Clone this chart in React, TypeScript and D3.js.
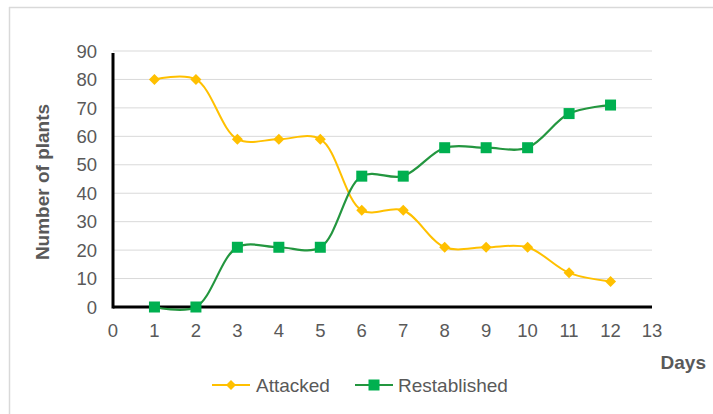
import * as d3 from 'd3'

const days = [1, 2, 3, 4, 5, 6, 7, 8, 9, 10, 11, 12]
const attacked = [80, 80, 59, 59, 59, 34, 34, 21, 21, 21, 12, 9]
const restablished = [0, 0, 21, 21, 21, 46, 46, 56, 56, 56, 68, 71]
const xTicks = d3.range(0, 14)
const yTicks = [0, 10, 20, 30, 40, 50, 60, 70, 80, 90]

const W = 713
const H = 414
const font = '"Liberation Sans", Arial, sans-serif'
const gray = '#595959'
const yellow = '#FFC000'
const greenMark = '#00B050'
const greenLine = '#23963F'

export default function App() {
  const x = d3.scaleLinear().domain([0, 13]).range([113, 652])
  const y = d3.scaleLinear().domain([0, 90]).range([307, 51])

  const line = d3
    .line<number>()
    .x((_, i) => x(days[i]))
    .y((d) => y(d))
    .curve(d3.curveCatmullRom.alpha(0.5))

  const diamond = (cx: number, cy: number, r: number) =>
    `M${cx},${cy - r}L${cx + r},${cy}L${cx},${cy + r}L${cx - r},${cy}Z`

  return (
    <svg
      width={W}
      height={H}
      style={{ position: 'absolute', left: 0, top: 0, background: '#fff' }}
      fontFamily={font}
    >
      {/* frame */}
      <line x1={9} x2={W} y1={7.5} y2={7.5} stroke="#d9d9d9" strokeWidth={1.5} />
      <line x1={9.5} x2={9.5} y1={7} y2={H} stroke="#d9d9d9" strokeWidth={1.5} />

      {/* grid */}
      {yTicks.slice(1).map((t) => (
        <line key={t} x1={x(0)} x2={x(13)} y1={y(t)} y2={y(t)} stroke="#d9d9d9" strokeWidth={1} />
      ))}

      {/* y tick labels */}
      {yTicks.map((t) => (
        <text key={t} x={97} y={y(t)} dy="0.36em" textAnchor="end" fontSize={18.5} fill={gray}>
          {t}
        </text>
      ))}

      {/* x tick labels */}
      {xTicks.map((t) => (
        <text key={t} x={x(t)} y={337} textAnchor="middle" fontSize={18.5} fill={gray}>
          {t}
        </text>
      ))}

      {/* axes */}
      <line x1={x(0)} x2={x(13)} y1={y(0)} y2={y(0)} stroke="#000" strokeWidth={3} />
      <line x1={x(0)} x2={x(0)} y1={y(90) + 2} y2={y(0) + 1.5} stroke="#000" strokeWidth={3} />

      {/* series */}
      <path d={line(attacked) ?? ''} fill="none" stroke={yellow} strokeWidth={2} />
      <path d={line(restablished) ?? ''} fill="none" stroke={greenLine} strokeWidth={2.2} />
      {attacked.map((v, i) => (
        <path key={'a' + i} d={diamond(x(days[i]), y(v), 5.5)} fill={yellow} />
      ))}
      {restablished.map((v, i) => (
        <rect key={'r' + i} x={x(days[i]) - 5.5} y={y(v) - 5.5} width={11} height={11} fill={greenMark} />
      ))}

      {/* axis titles */}
      <text
        transform={`translate(49,182) rotate(-90)`}
        textAnchor="middle"
        fontSize={19}
        fontWeight="bold"
        fill={gray}
      >
        Number of plants
      </text>
      <text x={706} y={369} textAnchor="end" fontSize={19} fontWeight="bold" fill={gray}>
        Days
      </text>

      {/* legend */}
      <line x1={212} x2={250} y1={385} y2={385} stroke={yellow} strokeWidth={2} />
      <path d={diamond(231, 385, 5)} fill={yellow} />
      <text x={256} y={391.5} fontSize={19} fill={gray}>
        Attacked
      </text>
      <line x1={355} x2={393} y1={385} y2={385} stroke={greenLine} strokeWidth={2.2} />
      <rect x={368.5} y={379.5} width={11} height={11} fill={greenMark} />
      <text x={398} y={391.5} fontSize={19} fill={gray}>
        Restablished
      </text>
    </svg>
  )
}
